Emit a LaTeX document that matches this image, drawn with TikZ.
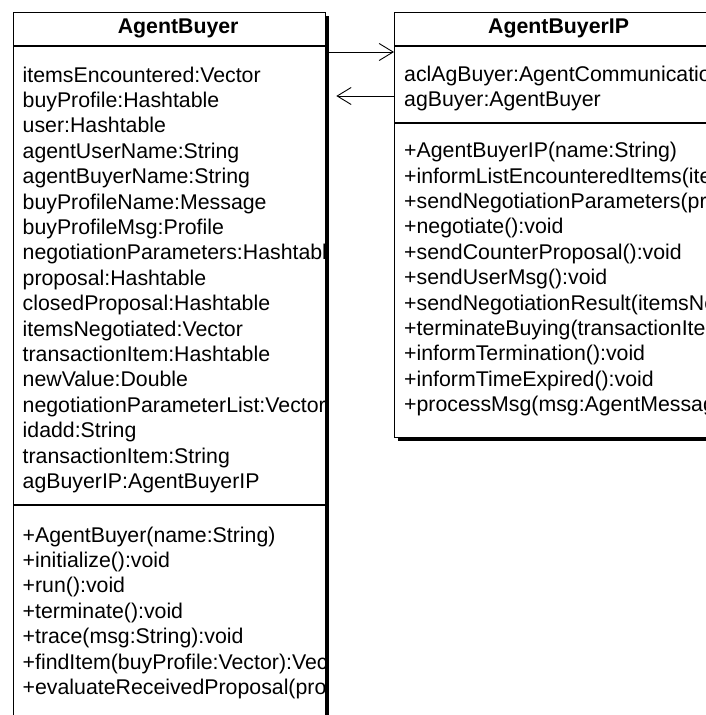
\documentclass[tikz,border=0pt]{standalone}
\usepackage{fontspec}
\setmainfont{Liberation Sans}
\usetikzlibrary{positioning}
\usetikzlibrary{arrows.meta,shadows}

\newcommand{\umlfont}{\fontsize{21.3}{25.4}\selectfont}

\tikzset{
	classbox/.style={draw, line width=1.3pt, fill=white, inner sep=0pt, anchor=north west,
		drop shadow={shadow xshift=3pt, shadow yshift=-3pt, opacity=1, fill=black}},
	classname/.style={font=\umlfont\bfseries, inner sep=0pt},
	members/.style={font=\umlfont, align=left, inner sep=0pt, anchor=north west},
	compart/.style={line width=1.3pt},
	assoc/.style={-{Straight Barb[length=14pt,width=17pt]}, line width=0.9pt},
}

\begin{document}
\begin{tikzpicture}[x=1pt, y=-1pt]
	\useasboundingbox (0,0) rectangle (706,715);
	\clip (0,0) rectangle (706,715);

	\node[classbox] (buyer) [minimum width=312pt, minimum height=740pt] at (13,12) {};
	\node[classbox] (buyerip) [minimum width=328pt, minimum height=425pt] at (394,12) {};

	\coordinate (headline) at (0,46);
	\coordinate (buyersep) at (0,505);
	\coordinate (ipsep) at (0,123);
	\coordinate (calllink) at (0,52);
	\coordinate (backlink) at (0,96);

	\path [draw, compart] (buyer.west |- headline) -- (buyer.east |- headline);
	\path [draw, compart] (buyer.west |- buyersep) -- (buyer.east |- buyersep);
	\path [draw, compart] (buyerip.west |- headline) -- (buyerip.east |- headline);
	\path [draw, compart] (buyerip.west |- ipsep) -- (buyerip.east |- ipsep);

	\node[classname] (buyertitle) at ([xshift=8.5pt]buyer.north |- 0,28) {AgentBuyer};
	\node[classname] (iptitle) at (buyerip.north |- 0,28) {AgentBuyerIP};

	\begin{scope}
		\clip (buyer.north west) rectangle ([xshift=-0.6pt]buyer.south east);
		\node[members] (buyerattrs) at (22.5,66.5) {itemsEncountered:Vector\\buyProfile:Hashtable\\user:Hashtable\\agentUserName:String\\agentBuyerName:String\\buyProfileName:Message\\buyProfileMsg:Profile\\negotiationParameters:Hashtable\\proposal:Hashtable\\closedProposal:Hashtable\\itemsNegotiated:Vector\\transactionItem:Hashtable\\newValue:Double\\negotiationParameterList:Vector\\idadd:String\\transactionItem:String\\agBuyerIP:AgentBuyerIP};
		\node[members] (buyerops) at (22.5,526.5) {+AgentBuyer(name:String)\\+initialize():void\\+run():void\\+terminate():void\\+trace(msg:String):void\\+findItem(buyProfile:Vector):Vector\\+evaluateReceivedProposal(proposal:Hashtable)};
	\end{scope}

	\begin{scope}
		\clip (buyerip.north west) rectangle ([xshift=-0.6pt]buyerip.south east);
		\node[members] (ipattrs) at (404,65.5) {aclAgBuyer:AgentCommunication\\agBuyer:AgentBuyer};
		\node[members] (ipops) at (404,142) {+AgentBuyerIP(name:String)\\+informListEncounteredItems(items:Vector)\\+sendNegotiationParameters(proposal)\\+negotiate():void\\+sendCounterProposal():void\\+sendUserMsg():void\\+sendNegotiationResult(itemsNegotiated)\\+terminateBuying(transactionItem)\\+informTermination():void\\+informTimeExpired():void\\+processMsg(msg:AgentMessage)};
	\end{scope}

	\path [draw, assoc] (buyer.east |- calllink) -- (buyerip.west |- calllink);
	\path [draw, assoc] (buyerip.west |- backlink) -- ([xshift=10pt]buyer.east |- backlink);
\end{tikzpicture}
\end{document}
